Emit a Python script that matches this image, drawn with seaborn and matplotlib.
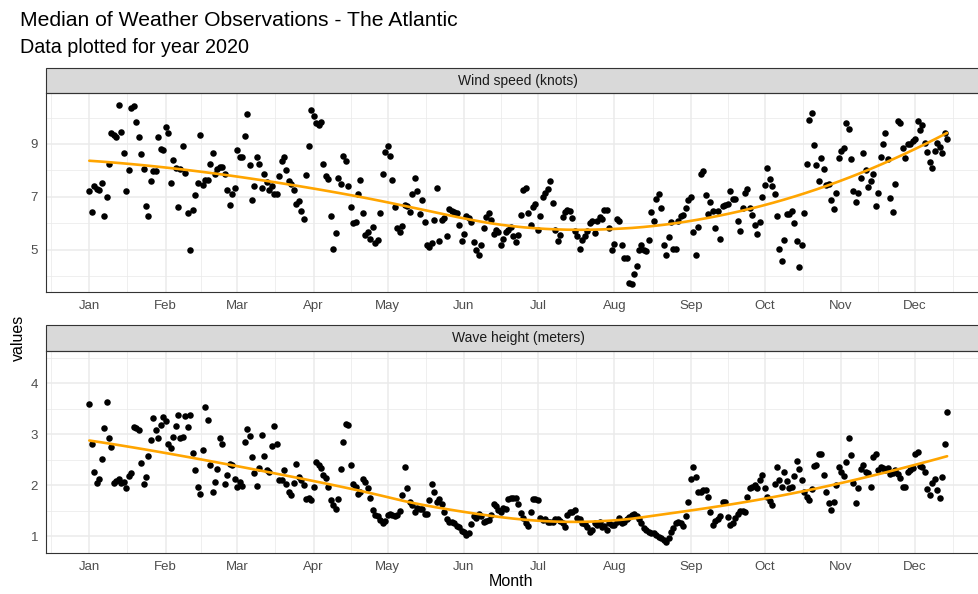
import numpy as np
import pandas as pd
import matplotlib
matplotlib.use("Agg")
import matplotlib.pyplot as plt
import seaborn as sns
from matplotlib.patches import Rectangle

# ---------------- data (daily medians, day-of-year 2020) ----------------
wind_speed = [
    7.22, 6.41, 7.41, 7.3, 7.25, 7.53, 6.26, 7.0, 8.24, 9.41, 9.35, 9.28, 10.46, 9.44, 8.64, 7.21, 8.0, 10.37, 10.42, 9.83,
    9.28, 8.62, 8.07, 6.64, 6.26, 7.58, 7.96, 7.98, 9.28, 8.81, 8.78, 9.63, 9.43, 7.53, 8.4, 8.09, 6.61, 8.05, 8.91, 7.91,
    6.37, 5.0, 6.5, 7.06, 7.53, 9.34, 7.45, 7.62, 7.64, 8.24, 8.66, 7.86, 8.04, 8.11, 8.14, 7.88, 7.27, 6.68,
    7.1, 7.35, 8.77, 8.49, 8.52, 9.32, 10.14, 8.2, 6.89, 7.4, 8.49, 8.24, 7.35, 7.86, 7.56, 7.26, 7.41, 7.1, 7.12, 7.78,
    8.36, 8.49, 8.01, 7.6, 7.5, 7.26, 6.71, 6.84, 6.46, 6.17, 7.82, 8.92, 10.3, 10.07, 9.81, 9.71, 9.84, 8.24, 7.78, 7.67,
    6.28, 5.03, 5.61, 7.7, 7.48, 8.56, 8.34, 7.41, 6.63, 5.99, 6.04, 7.1, 7.64, 6.4, 5.55, 5.67, 5.41, 5.85, 5.26, 5.35,
    6.37, 7.88, 8.71,
    8.91, 8.53, 7.65, 6.63, 5.83, 5.65, 5.89, 6.68, 6.65, 6.44, 7.1, 7.73, 7.22, 6.36, 6.87, 6.05, 5.19, 5.09, 5.26, 6.12,
    7.32, 5.32, 6.12, 6.18, 5.52, 6.52, 6.46, 6.42, 6.37, 5.93, 5.32, 5.6, 6.28, 6.18, 6.05, 5.29, 4.99, 4.81, 5.19, 5.83,
    6.25, 6.4, 6.12, 5.6, 5.76, 5.67, 5.16, 5.42, 5.67, 5.76, 5.85, 5.51, 5.29, 5.57, 6.31, 7.26, 7.32, 6.37, 5.93, 6.63,
    6.71, 5.76, 6.27,
    7.0, 7.16, 7.29, 7.6, 6.75, 5.76, 5.34, 5.55, 6.23, 6.44, 6.49, 6.46, 6.21, 5.72, 5.51, 5.04, 5.35, 5.51, 5.72, 6.02,
    6.08, 5.62, 6.08, 6.23, 6.14, 6.49, 6.5, 5.83, 5.0, 5.23, 6.14, 6.1, 5.19, 4.68, 4.68, 3.73, 3.69, 4.07, 4.36, 4.97,
    5.19, 5.0, 4.94, 5.38, 6.44, 6.08, 6.9, 7.12, 6.59, 5.19, 4.78, 5.48, 6.04, 5.03, 5.03, 6.08, 6.27, 6.31, 6.56, 6.87,
    7.0, 5.66, 4.81,
    5.85, 7.86, 7.96, 7.07, 6.36, 6.8, 6.46, 5.8, 6.46, 5.41, 6.65, 6.69, 6.71, 7.22, 6.93, 6.93, 6.08, 5.72, 6.59, 7.16,
    7.31, 6.56, 6.31, 5.95, 5.6, 6.05, 7.0, 7.45, 8.09, 7.68, 7.41, 7.1, 6.27, 5.04, 4.58, 5.35, 6.33, 6.36, 6.46, 6.02,
    5.32, 4.34, 5.16, 6.4, 8.26, 9.89, 10.19, 8.96, 8.2, 7.6, 8.45, 8.07, 7.45, 7.5, 6.87, 6.52, 7.16, 8.45, 8.74, 8.85,
    9.8, 9.55, 8.43,
    7.2, 6.8, 7.16, 7.73, 8.64, 8.03, 7.37, 7.6, 7.86, 6.64, 7.13, 8.49, 9.0, 9.41, 8.43, 6.94, 6.44, 7.5, 9.86, 9.81,
    8.84, 8.45, 9.0, 9.0, 9.13, 9.19, 9.86, 9.53, 9.72, 9.05, 8.68, 8.31, 8.09, 8.72, 9.03, 8.9, 8.64, 9.41, 9.17,
]

wave_height = [
    3.59, 2.80, 2.26, 2.04, 2.12, 2.51, 3.13, 3.63, 2.93, 2.74, 2.05, 2.09, 2.12, 2.04, 2.07, 1.94, 2.18, 2.23, 3.15, 3.13,
    3.08, 2.44, 2.02, 2.16, 2.57, 2.89, 3.32, 3.08, 2.92, 3.18, 3.34, 3.26, 2.80, 2.73, 2.95, 3.16, 3.37, 2.93, 2.94, 3.35,
    3.15, 3.38, 2.63, 2.29, 1.96, 1.83, 2.68, 3.54, 3.28, 2.39, 1.87, 2.07, 2.32, 2.92, 2.80, 2.03, 2.20, 2.41,
    2.39, 2.12, 1.96, 2.07, 1.98, 2.84, 3.10, 2.96, 2.56, 2.23, 1.98, 2.34, 2.98, 2.57, 2.30, 2.25, 2.77, 3.17, 2.80, 2.11,
    2.10, 2.30, 2.03, 1.86, 1.81, 2.05, 2.42, 2.15, 2.10, 2.00, 1.73, 1.74, 1.70, 1.96, 2.46, 2.39, 2.33, 2.20, 2.13, 1.97,
    1.70, 1.61, 1.53, 1.73, 2.32, 2.84, 3.21, 3.18, 2.39, 2.03, 1.97, 1.83, 1.87, 2.12, 2.07, 1.94, 1.74, 1.51, 1.41, 1.39,
    1.31, 1.25, 1.30,
    1.41, 1.43, 1.41, 1.40, 1.41, 1.49, 1.81, 2.36, 1.94, 1.66, 1.60, 1.48, 1.56, 1.53, 1.54, 1.43, 1.44, 1.71, 2.02, 1.86,
    1.67, 1.73, 1.62, 1.47, 1.33, 1.27, 1.28, 1.26, 1.20, 1.18, 1.10, 1.08, 1.02, 1.05, 1.23, 1.40, 1.36, 1.43, 1.40, 1.28,
    1.29, 1.31, 1.41, 1.62, 1.58, 1.51, 1.48, 1.56, 1.54, 1.73, 1.75, 1.75, 1.75, 1.62, 1.45, 1.35, 1.25, 1.20, 1.47, 1.73,
    1.73, 1.70, 1.36,
    1.31, 1.34, 1.28, 1.28, 1.28, 1.34, 1.33, 1.29, 1.25, 1.18, 1.41, 1.48, 1.48, 1.51, 1.36, 1.34, 1.26, 1.23, 1.18, 1.08,
    1.12, 1.25, 1.22, 1.28, 1.18, 1.20, 1.12, 1.25, 1.22, 1.22, 1.28, 1.36, 1.25, 1.28, 1.34, 1.38, 1.41, 1.43, 1.39, 1.33,
    1.25, 1.15, 1.12, 1.07, 1.05, 1.05, 1.02, 0.99, 0.97, 0.92, 0.88, 0.96, 1.08, 1.15, 1.25, 1.28, 1.25, 1.20, 1.40, 1.66,
    2.12, 2.36, 2.15,
    1.87, 1.87, 1.90, 1.90, 1.77, 1.48, 1.22, 1.29, 1.34, 1.40, 1.67, 1.67, 1.38, 1.22, 1.25, 1.36, 1.43, 1.49, 1.49, 1.48,
    1.77, 1.94, 1.97, 2.00, 1.94, 2.10, 2.20, 1.94, 1.77, 1.69, 1.61, 2.02, 2.36, 2.10, 1.97, 2.26, 2.08, 1.94, 1.97, 2.18,
    2.48, 2.32, 2.10, 1.87, 1.77, 1.71, 1.92, 2.38, 2.40, 2.62, 2.62, 2.20, 1.87, 1.65, 1.51, 1.66, 2.00, 2.36, 2.25, 2.17,
    2.46, 2.92, 2.59,
    2.04, 1.65, 1.94, 2.32, 2.40, 2.26, 2.23, 1.97, 2.56, 2.62, 2.30, 2.36, 2.33, 2.30, 2.33, 2.21, 2.23, 2.30, 2.21, 2.13,
    1.97, 1.97, 2.25, 2.30, 2.33, 2.62, 2.66, 2.38, 2.36, 2.26, 1.92, 1.81, 2.04, 2.12, 1.91, 1.74, 2.15, 2.80, 3.44,
]

days = list(range(1, len(wind_speed) + 1))
month_starts = [1, 32, 61, 92, 122, 153, 183, 214, 245, 275, 306, 336]
month_labels = ["Jan", "Feb", "Mar", "Apr", "May", "Jun", "Jul", "Aug", "Sep", "Oct", "Nov", "Dec"]
panel_titles = ["Wind speed (knots)", "Wave height (meters)"]
y_major = [[5, 7, 9], [1, 2, 3, 4]]
y_minor = [[4, 6, 8, 10], [1.5, 2.5, 3.5, 4.5]]

df = pd.DataFrame({
    "day": days + days,
    "value": wind_speed + wave_height,
    "variable": [panel_titles[0]] * len(days) + [panel_titles[1]] * len(days),
})


def loess_curve(x, y, span=0.75, n_out=80):
    """Local quadratic regression with tricube weights (like geom_smooth's loess)."""
    x = np.asarray(x, float)
    y = np.asarray(y, float)
    n = len(x)
    q = int(np.floor(span * n))
    xs = np.linspace(x.min(), x.max(), n_out)
    ys = []
    for x0 in xs:
        d = np.abs(x - x0)
        h = np.sort(d)[q - 1]
        u = np.clip(d / h, 0, 1)
        w = (1 - u ** 3) ** 3
        X = np.column_stack([np.ones(n), x - x0, (x - x0) ** 2])
        sw = np.sqrt(w)
        beta = np.linalg.lstsq(X * sw[:, None], y * sw, rcond=None)[0]
        ys.append(beta[0])
    return pd.DataFrame({"day": xs, "value": ys})


# ---------------- style ----------------
sns.set_style("white")
plt.rcParams["font.family"] = ["Liberation Sans", "DejaVu Sans"]

W, H = 979, 594
fig = plt.figure(figsize=(W / 100, H / 100), dpi=100)


def px_axes(l, t, r, b):
    return fig.add_axes([l / W, 1 - b / H, (r - l) / W, (b - t) / H])


panels = [
    (px_axes(46.4, 93, 990, 292), 25, (3.394, 10.93)),
    (px_axes(46.4, 351, 990, 553), 26, (0.666, 4.635)),
]

ext = [-30] + month_starts + [367]
x_minor = [(a + b) / 2 for a, b in zip(ext[:-1], ext[1:])]

for i, (ax, strip_h, ylim) in enumerate(panels):
    sub = df[df["variable"] == panel_titles[i]]
    sns.scatterplot(data=sub, x="day", y="value", ax=ax, color="black",
                    s=22, linewidth=0, zorder=2)
    smooth = loess_curve(sub["day"], sub["value"])
    sns.lineplot(data=smooth, x="day", y="value", ax=ax, color="#FFA500",
                 lw=1.9, zorder=3)
    ax.set_xlim(-16.4, 366.4)
    ax.set_ylim(*ylim)
    ax.set_xticks(month_starts)
    ax.set_xticklabels(month_labels)
    ax.set_xticks(x_minor, minor=True)
    ax.set_yticks(y_major[i])
    ax.set_yticks(y_minor[i], minor=True)
    ax.set_xlabel("")
    ax.set_ylabel("")
    ax.set_axisbelow(True)
    ax.grid(which="major", color="#EBEBEB", lw=1.1)
    ax.grid(which="minor", color="#EBEBEB", lw=0.55)
    for sp in ax.spines.values():
        sp.set_color("#333333")
        sp.set_linewidth(0.8)
    ax.tick_params(which="major", length=3.5, width=0.7, color="#333333",
                   labelsize=9.5, labelcolor="#4D4D4D", pad=2.5)
    ax.tick_params(which="minor", length=0)
    h = strip_h / (ax.get_position().height * H)
    ax.add_patch(Rectangle((0, 1), 1, h, transform=ax.transAxes, clip_on=False,
                           facecolor="#D9D9D9", edgecolor="#333333", lw=0.8))
    ax.text(0.5, 1 + h / 2, panel_titles[i], transform=ax.transAxes,
            ha="center", va="center", fontsize=10, color="#1A1A1A")

fig.text(20 / W, 1 - 20 / H, "Median of Weather Observations - The Atlantic",
         ha="left", va="center", fontsize=15.2, color="black")
fig.text(20 / W, 1 - 47.5 / H, "Data plotted for year 2020",
         ha="left", va="center", fontsize=14.2, color="black")
fig.text(18 / W, 1 - 338 / H, "values", rotation=90, ha="center", va="center",
         fontsize=11.5, color="black")
fig.text(511 / W, 1 - 582 / H, "Month", ha="center", va="center",
         fontsize=11.5, color="black")

fig.savefig("out.png", dpi=100)
